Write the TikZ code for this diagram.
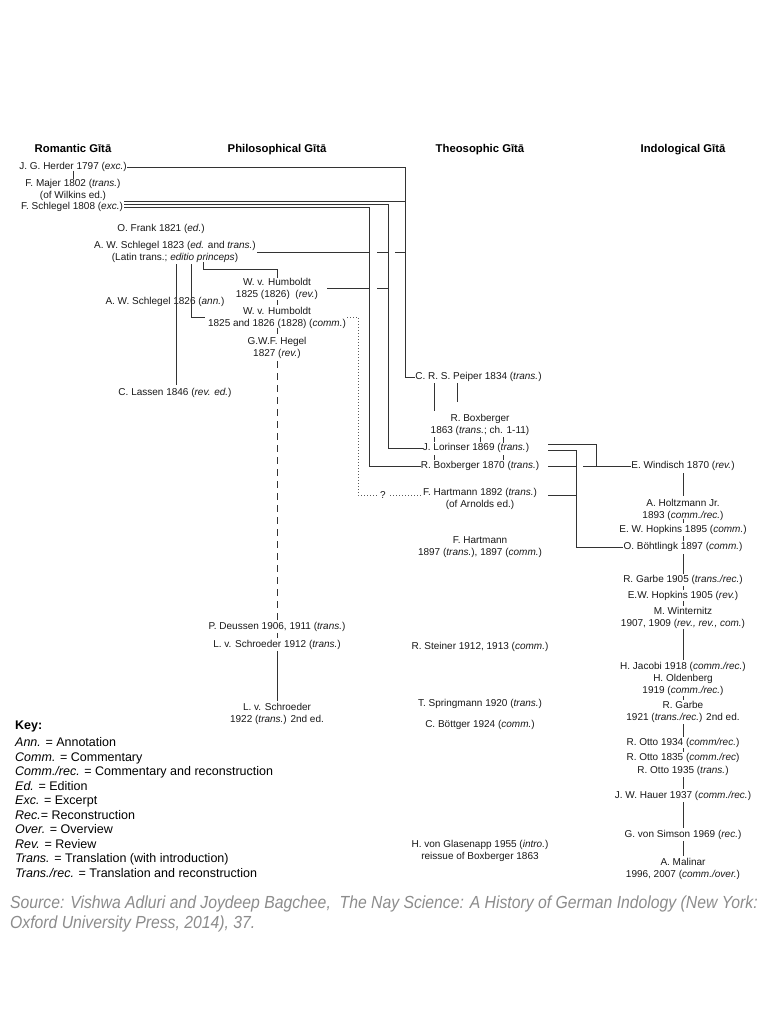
\documentclass[tikz,border=0pt]{standalone}
\usepackage{fontspec}
\setmainfont{Liberation Sans}
\newfontfamily\srcfont[FakeStretch=0.9]{Liberation Sans}
\begin{document}
\begin{tikzpicture}[x=1pt,y=-1pt,
  ent/.style={font=\fontsize{10}{12}\selectfont, align=center, inner sep=0pt, text=black!90},
  hd/.style={font=\fontsize{11.3}{13}\selectfont\bfseries, inner sep=0pt, text height=8.2pt, text depth=2.4pt},
  keyt/.style={font=\fontsize{12.5}{14}\selectfont, anchor=west, inner sep=0pt, text height=9pt, text depth=2.7pt},
  srct/.style={anchor=west, inner sep=0pt, text=black!45, font=\srcfont\fontsize{17.5}{20}\selectfont\itshape},
  ln/.style={line width=0.9pt, black!80},
  dsh/.style={ln, dash pattern=on 7pt off 5pt},
  dotl/.style={line width=1pt, black!65, dash pattern=on 1pt off 2pt}]
\useasboundingbox (0,0) rectangle (768,1024);
\fill[white] (0,0) rectangle (768,1024);

% headings
\node[hd] (romh) at (73,150) {Romantic Gītā};
\node[hd] (philh) at (277,150) {Philosophical Gītā};
\node[hd] (theoh) at (480,150) {Theosophic Gītā};
\node[hd] (indh) at (683,150) {Indological Gītā};

% Romantic / Philosophical
\node[ent] (herder) at (73,167) {J. G. Herder 1797 (\textit{exc.})};
\node[ent] (majer) at (73,190) {F. Majer 1802 (\textit{trans.})\\(of Wilkins ed.)};
\node[ent] (fschlegel) at (72,207) {F. Schlegel 1808 (\textit{exc.})};
\node[ent] (frank) at (161,229) {O. Frank 1821 (\textit{ed.})};
\node[ent] (aws23) at (175,251.5) {A. W. Schlegel 1823 (\textit{ed.} and \textit{trans.})\\(Latin trans.; \textit{editio princeps})};
\node[ent] (humrev) at (277,288.5) {W. v. Humboldt\\1825 (1826)\ \ (\textit{rev.})};
\node[ent] (aws26) at (165,302) {A. W. Schlegel 1826 (\textit{ann.})};
\node[ent] (humcomm) at (277,317.5) {W. v. Humboldt\\1825 and 1826 (1828) (\textit{comm.})};
\node[ent] (hegel) at (277,348) {G.W.F. Hegel\\1827 (\textit{rev.})};
\node[ent] (lassen) at (175,393) {C. Lassen 1846 (\textit{rev. ed.})};
\node[ent] (deussen) at (277,627) {P. Deussen 1906, 1911 (\textit{trans.})};
\node[ent] (schr12) at (277,645) {L. v. Schroeder 1912 (\textit{trans.})};
\node[ent] (schr22) at (277,714) {L. v. Schroeder\\1922 (\textit{trans.}) 2nd ed.};

% Theosophic
\node[ent] (peiper) at (478.5,377) {C. R. S. Peiper 1834 (\textit{trans.})};
\node[ent] (box63) at (480,425) {R. Boxberger\\1863 (\textit{trans.}; ch. 1-11)};
\node[ent] (lorinser) at (476,448) {J. Lorinser 1869 (\textit{trans.})};
\node[ent] (box70) at (480,466) {R. Boxberger 1870 (\textit{trans.})};
\node[ent] (hart92) at (480,499) {F. Hartmann 1892 (\textit{trans.})\\(of Arnolds ed.)};
\node[ent] (q) at (383,495) {?};
\node[ent] (hart97) at (480,547) {F. Hartmann\\1897 (\textit{trans.}), 1897 (\textit{comm.})};
\node[ent] (steiner) at (480,647) {R. Steiner 1912, 1913 (\textit{comm.})};
\node[ent] (spring) at (480,704) {T. Springmann 1920 (\textit{trans.})};
\node[ent] (boettger) at (480,725) {C. Böttger 1924 (\textit{comm.})};
\node[ent] (glas) at (480,851) {H. von Glasenapp 1955 (\textit{intro.})\\reissue of Boxberger 1863};

% Indological
\node[ent] (windisch) at (683,466) {E. Windisch 1870 (\textit{rev.})};
\node[ent] (holtz) at (683,510) {A. Holtzmann Jr.\\1893 (\textit{comm./rec.})};
\node[ent] (hop95) at (683,530) {E. W. Hopkins 1895 (\textit{comm.})};
\node[ent] (boeht) at (683,547) {O. Böhtlingk 1897 (\textit{comm.})};
\node[ent] (garbe05) at (683,580) {R. Garbe 1905 (\textit{trans./rec.})};
\node[ent] (hop05) at (683,596) {E.W. Hopkins 1905 (\textit{rev.})};
\node[ent] (wint) at (683,618) {M. Winternitz\\1907, 1909 (\textit{rev., rev., com.})};
\node[ent] (jacobi) at (683,667) {H. Jacobi 1918 (\textit{comm./rec.})};
\node[ent] (olden) at (683,685) {H. Oldenberg\\1919 (\textit{comm./rec.})};
\node[ent] (garbe21) at (683,712) {R. Garbe\\1921 (\textit{trans./rec.}) 2nd ed.};
\node[ent] (otto34) at (683,743) {R. Otto 1934 (\textit{comm/rec.})};
\node[ent] (otto1835) at (683,758) {R. Otto 1835 (\textit{comm./rec})};
\node[ent] (otto1935) at (683,771) {R. Otto 1935 (\textit{trans.})};
\node[ent] (hauer) at (683,796) {J. W. Hauer 1937 (\textit{comm./rec.})};
\node[ent] (simson) at (683,835) {G. von Simson 1969 (\textit{rec.})};
\node[ent] (malinar) at (683,869) {A. Malinar\\1996, 2007 (\textit{comm./over.})};

% ---- connectors: Romantic
\draw[ln] (73,171) -- (73,179);
\draw[ln] (herder.east) -- (405,167) |- (peiper.west);
\draw[ln] (124,201.5) -- (405,201.5);
\draw[ln] (124,204.5) -- (388,204.5) |- (lorinser.west);
\draw[ln] (124,207.5) -- (369,207.5) |- (box70.west);
\draw[ln] (257,252.5) -- (369,252.5);
\draw[ln] (377,252.5) -- (388,252.5);
\draw[ln] (395,252.5) -- (405,252.5);
\draw[ln] (327,288) -- (369,288);
\draw[ln] (377,288) -- (388,288);
\draw[ln] (176,264) -- (176,385);
\draw[ln] (191,264) -- (191,317) -- (205,317);
\draw[ln] (203,262) -- (203,269) -- (277,269) -- (humrev.north);
% Philosophical spine
\draw[ln] (277,300) -- (277,305);
\draw[ln] (277,328) -- (277,334);
\draw[dsh] (277,361) -- (277,621);
\draw[ln] (277,633) -- (277,638);
\draw[ln] (277,651) -- (277,701);
% dotted link to Hartmann 1892
\draw[dotl] (347,317) -- (358,317) -- (358,495) -- (378,495);
\draw[dotl] (390,495) -- (hart92.west |- 0,495);

% ---- Theosophic
\draw[ln] (434,383) -- (434,411);
\draw[ln] (457,383) -- (457,402);
\draw[ln] (434,437) -- (434,442);
\draw[ln] (480,437) -- (480,442);
\draw[ln] (503,437) -- (503,443);
\draw[ln] (434,455) -- (434,460);
\draw[ln] (503,455) -- (503,460);
\draw[ln] (548,444) -- (596,444) -- (596,466);
\draw[ln] (548,450) -- (576,450) -- (576,547) -- (boeht.west);
\draw[ln] (548,466) -- (576,466);
\draw[ln] (583,466) -- (windisch.west);
\draw[ln] (548,495) -- (576,495);

% ---- Indological spine
\draw[ln] (683,473) -- (683,496);
\draw[ln] (683,519) -- (683,523);
\draw[ln] (683,536) -- (683,541);
\draw[ln] (683,554) -- (683,574);
\draw[ln] (683,586) -- (683,590);
\draw[ln] (683,601) -- (683,606);
\draw[ln] (683,629) -- (683,660);
\draw[ln] (683,696) -- (683,700);
\draw[ln] (683,724) -- (683,737);
\draw[ln] (683,748) -- (683,752);
\draw[ln] (683,777) -- (683,789);
\draw[ln] (683,802) -- (683,828);
\draw[ln] (683,841) -- (683,856);

% ---- Key
\node[keyt, font=\fontsize{12.5}{14}\selectfont\bfseries] (key) at (15,726) {Key:};
\node[keyt] (k1) at (15,743) {\textit{Ann.} = Annotation};
\node[keyt] (k2) at (15,758) {\textit{Comm.} = Commentary};
\node[keyt] (k3) at (15,772.5) {\textit{Comm./rec.} = Commentary and reconstruction};
\node[keyt] (k4) at (15,787) {\textit{Ed.} = Edition};
\node[keyt] (k5) at (15,801.5) {\textit{Exc.} = Excerpt};
\node[keyt] (k6) at (15,816) {\textit{Rec.}= Reconstruction};
\node[keyt] (k7) at (15,830.5) {\textit{Over.} = Overview};
\node[keyt] (k8) at (15,845) {\textit{Rev.} = Review};
\node[keyt] (k9) at (15,859.5) {\textit{Trans.} = Translation (with introduction)};
\node[keyt] (k10) at (15,874) {\textit{Trans./rec.} = Translation and reconstruction};

% ---- Source
\node[srct] (src1) at (10,904) {Source: Vishwa Adluri and Joydeep Bagchee,\ \ The Nay Science: A History of German Indology (New York:};
\node[srct] (src2) at (10,924) {Oxford University Press, 2014), 37.};
\end{tikzpicture}
\end{document}
